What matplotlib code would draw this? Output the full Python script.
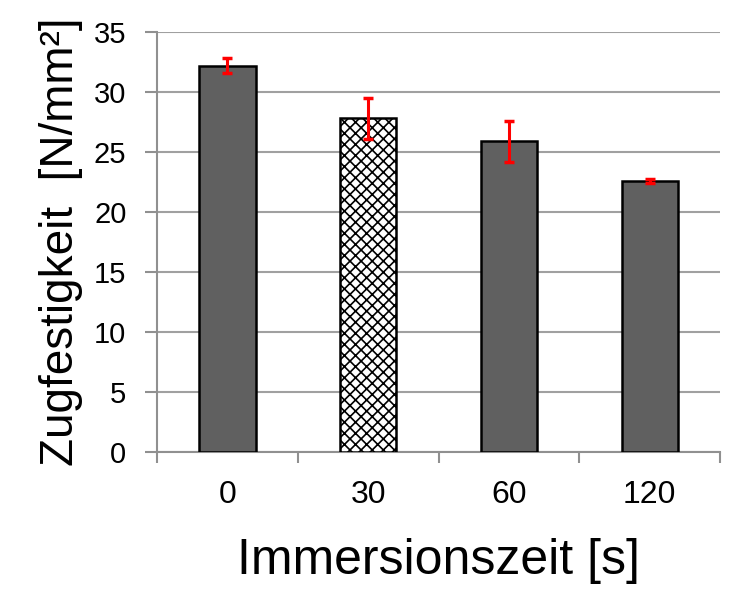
import numpy as np
import matplotlib.pyplot as plt

# Daten
kategorien = ['0', '30', '60', '120']
zugfestigkeit = [32.2, 27.8, 25.9, 22.6]
fehler = [0.6, 1.7, 1.7, 0.15]

plt.rcParams['font.family'] = ['Liberation Sans', 'DejaVu Sans']
plt.rcParams['hatch.linewidth'] = 1.2

fig = plt.figure(figsize=(7.44, 6.15), dpi=100)
ax = fig.add_axes([0.211, 0.265, 0.757, 0.683])

x = np.arange(len(kategorien))
farben = ['#606060', 'white', '#606060', '#606060']
hatches = ['', 'xxx', '', '']
for i in range(len(x)):
    ax.bar(x[i], zugfestigkeit[i], width=0.4, color=farben[i], edgecolor='black',
           linewidth=1.8, hatch=hatches[i], zorder=3)
ax.errorbar(x, zugfestigkeit, yerr=fehler, fmt='none', ecolor='red', elinewidth=2.2,
            capsize=3.5, capthick=2.5, zorder=4)

ax.set_xlim(-0.5, len(x) - 0.5)
ax.set_ylim(0, 35)
ax.set_yticks(np.arange(0, 36, 5))
ax.yaxis.grid(True, color='#a0a0a0', linewidth=1.5, zorder=0)
ax.set_axisbelow(True)

ax.set_xticks(x)
ax.set_xticklabels(kategorien)
ax.set_xticks(np.arange(-0.5, len(x), 1), minor=True)
ax.tick_params(axis='x', which='major', length=0, pad=20, labelsize=23)
ax.tick_params(axis='x', which='minor', length=8, width=1.5, color='#909090')
ax.tick_params(axis='y', length=9, width=1.5, color='#909090', labelsize=21, pad=13)

for s in ['top', 'right']:
    ax.spines[s].set_visible(False)
for s in ['left', 'bottom']:
    ax.spines[s].set_color('#909090')
    ax.spines[s].set_linewidth(1.5)

ax.set_xlabel('Immersionszeit [s]', fontsize=36, labelpad=20)
ax.set_ylabel('Zugfestigkeit  [N/mm²]', fontsize=33, labelpad=8)

fig.savefig('out.png', dpi=100)
